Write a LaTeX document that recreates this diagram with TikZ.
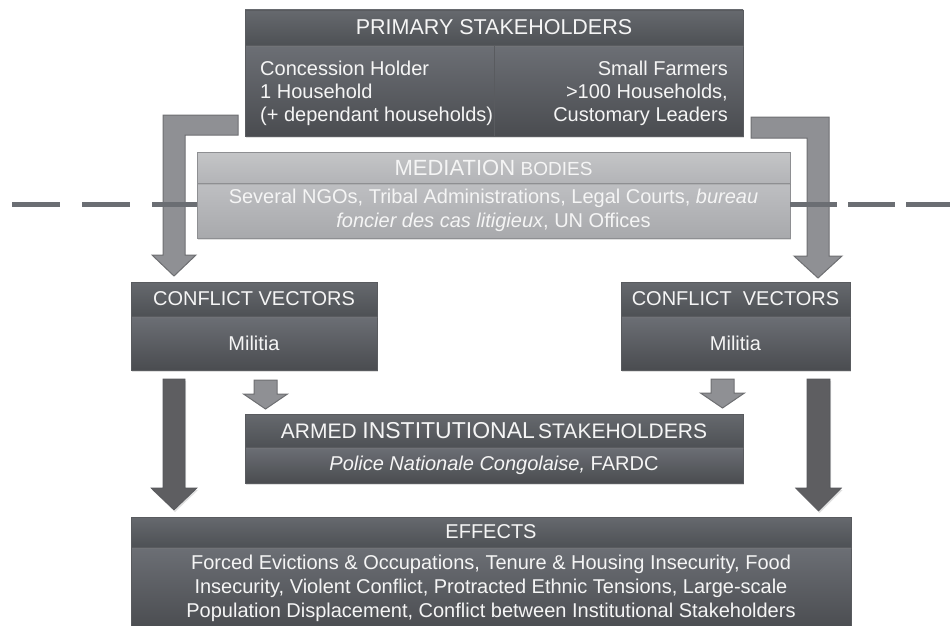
\documentclass[tikz,border=0pt]{standalone}
\usepackage{fontspec}
\setmainfont{Liberation Sans}
\usetikzlibrary{calc,shadows}

\definecolor{headtop}{HTML}{66696E}
\definecolor{headbot}{HTML}{4E5155}
\definecolor{bodytop}{HTML}{6C6F75}
\definecolor{bodybot}{HTML}{4A4C50}
\definecolor{boxline}{HTML}{595B5F}
\definecolor{medtop}{HTML}{C4C5C7}
\definecolor{medbot}{HTML}{B3B4B7}
\definecolor{medbodytop}{HTML}{BEBFC2}
\definecolor{medbodybot}{HTML}{A8A9AC}
\definecolor{medline}{HTML}{8E8F92}
\definecolor{arrowfill}{HTML}{8F9094}
\definecolor{arrowline}{HTML}{6E6F72}
\definecolor{darkfill}{HTML}{5E5E61}
\definecolor{darkline}{HTML}{55565A}
\definecolor{dashcol}{HTML}{6B6E73}

\tikzset{
	boxshadow/.style = {drop shadow = {shadow xshift = 1pt, shadow yshift = -2pt, opacity = 0.25}},
	boxhead/.style = {shape = rectangle, draw = boxline, top color = headtop, bottom color = headbot, text = white!96!black, inner sep = 0pt, font = \fontsize{20}{24}\selectfont, boxshadow},
	boxbody/.style = {shape = rectangle, draw = boxline, top color = bodytop, bottom color = bodybot, text = white!96!black, inner sep = 0pt, align = center, font = \fontsize{20}{24}\selectfont, boxshadow},
	medhead/.style = {boxhead, draw = medline, top color = medtop, bottom color = medbot},
	medbox/.style = {boxbody, draw = medline, top color = medbodytop, bottom color = medbodybot},
	boxtext/.style = {inner sep = 0pt, text = white!96!black, font = \fontsize{20}{23}\selectfont},
	lightarrow/.style = {fill = arrowfill, draw = arrowline, line width = 1pt},
	darkarrow/.style = {fill = darkfill, draw = darkline, line width = 0.6pt, boxshadow},
	dashline/.style = {draw = dashcol, line width = 5pt, dash pattern = on 48pt off 22pt},
	sepline/.style = {draw = boxline, line width = 0.8pt}
}
\newcommand{\darkhead}{\node[boxhead]}
\newcommand{\darkbody}{\node[boxbody]}
\newcommand{\blockarrow}[6]{\draw[#1] ($(#2)+(-#4,0)$) -- ($(#3)+(-#4,-#6)$) -- ($(#3)+(-#5,-#6)$) -- (#3) -- ($(#3)+(#5,-#6)$) -- ($(#3)+(#4,-#6)$) -- ($(#2)+(#4,0)$) -- cycle;}

\begin{document}
\begin{tikzpicture}[x = 1pt, y = -1pt]
					\useasboundingbox (0,0) rectangle (950,626);
					\draw[lightarrow] (238,115) -- (163,115) -- (163,255) -- (152,255) -- (174,276) -- (196,255) -- (185,255) -- (185,135) -- (238,135) -- cycle;
					\draw[lightarrow] (751,117) -- (829,117) -- (829,256) -- (842,256) -- (818,278) -- (794,256) -- (807,256) -- (807,138) -- (751,138) -- cycle;
					\coordinate (sla) at (265.5,380);
					\coordinate (slb) at (265.5,409);
					\coordinate (sra) at (722.5,379);
					\coordinate (srb) at (722.5,408);
					\coordinate (dla) at (174,379);
					\coordinate (dlb) at (174,510);
					\coordinate (dra) at (818.5,379);
					\coordinate (drb) at (818.5,511);
					\blockarrow{lightarrow}{sla}{slb}{11.5}{22}{15}
					\blockarrow{lightarrow}{sra}{srb}{11.5}{22}{15}
					\blockarrow{darkarrow}{dla}{dlb}{11}{23}{22}
					\blockarrow{darkarrow}{dra}{drb}{11.5}{23}{23}
					\darkbody (primbody) at (494,90.5) [minimum width = 498pt, minimum height = 91pt] {};
					\darkhead (prim) at (494,27.5) [minimum width = 498pt, minimum height = 35pt] {\fontsize{21.5}{24}\selectfont PRIMARY STAKEHOLDERS};
					\draw[sepline] (primbody.north) -- (primbody.south);
					\node[boxtext, anchor = west, align = left] (primleft) at (260,93) {Concession Holder\\1 Household\\(+ dependant households)};
					\node[boxtext, anchor = east, align = right] (primright) at (728,93) {Small Farmers\\>100 Households,\\Customary Leaders};
					\node[medbox] (medbody) at (493.5,210.5) [minimum width = 593pt, minimum height = 55pt] {Several NGOs, Tribal Administrations, Legal Courts, \textit{bureau}\\\textit{foncier des cas litigieux}, UN Offices};
					\node[medhead] (med) at (493.5,167.5) [minimum width = 593pt, minimum height = 31pt] {{\fontsize{22}{24}\selectfont MEDIATION} {\fontsize{19}{24}\selectfont BODIES}};
					\coordinate (dl) at (12,204);
					\coordinate (dr) at (950,204);
					\draw[dashline] (dl) -- (dl -| medbody.west);
					\draw[dashline, dash pattern = on 47pt off 11pt] (dr -| medbody.east) -- (dr);
					\darkbody (cvlbody) at (254,343) [minimum width = 246pt, minimum height = 54pt] {Militia};
					\darkhead (cvl) at (254,299) [minimum width = 246pt, minimum height = 34pt] {CONFLICT VECTORS};
					\darkbody (cvrbody) at (735.5,343) [minimum width = 229pt, minimum height = 54pt] {Militia};
					\darkhead (cvr) at (735.5,299) [minimum width = 229pt, minimum height = 34pt] {CONFLICT\ \ VECTORS};
					\darkbody (armbody) at (494,465) [minimum width = 498pt, minimum height = 36pt] {\textit{Police Nationale Congolaise,} FARDC};
					\darkhead (arm) at (494,430.5) [minimum width = 498pt, minimum height = 33pt] {{\fontsize{21}{24}\selectfont ARMED} {\fontsize{23}{24}\selectfont INSTITUTIONAL}\,{\fontsize{21}{24}\selectfont STAKEHOLDERS}};
					\darkbody (effbody) at (491,588.5) [minimum width = 720pt, minimum height = 83pt] {Forced Evictions \& Occupations, Tenure \& Housing Insecurity, Food\\Insecurity, Violent Conflict, Protracted Ethnic Tensions, Large-scale\\Population Displacement, Conflict between Institutional Stakeholders};
					\darkhead (eff) at (491,532) [minimum width = 720pt, minimum height = 30pt] {EFFECTS};
				\end{tikzpicture}
\end{document}
